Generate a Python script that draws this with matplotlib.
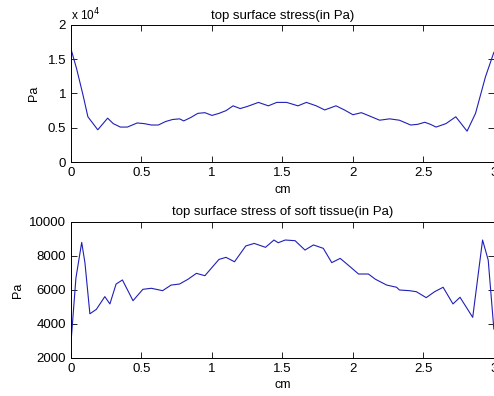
import numpy as np
import matplotlib
matplotlib.use("Agg")
import matplotlib.pyplot as plt
from matplotlib.ticker import FuncFormatter

plt.rcParams['font.family'] = ['Liberation Sans', 'DejaVu Sans']

# position along the top surface (cm) and stress (Pa)
top_x = [0, 0.04, 0.085, 0.12, 0.19, 0.26, 0.30, 0.35, 0.40, 0.47, 0.52, 0.57,
         0.62, 0.67, 0.72, 0.77, 0.80, 0.85, 0.90, 0.95, 1.00, 1.05, 1.10, 1.15,
         1.20, 1.25, 1.33, 1.40, 1.46, 1.53, 1.61, 1.67, 1.74, 1.80, 1.88, 1.94,
         2.00, 2.06, 2.12, 2.19, 2.26, 2.33, 2.41, 2.46, 2.51, 2.55, 2.59, 2.66,
         2.73, 2.81, 2.87, 2.94, 3.00]
top_pa = [16500, 13600, 9800, 6600, 4700, 6400, 5600, 5100, 5100, 5700, 5600, 5400,
          5400, 5900, 6200, 6300, 6000, 6500, 7100, 7200, 6800, 7100, 7500, 8200,
          7800, 8100, 8700, 8200, 8700, 8700, 8200, 8700, 8200, 7600, 8200, 7600,
          6900, 7200, 6700, 6100, 6300, 6100, 5400, 5500, 5800, 5500, 5100, 5600,
          6600, 4500, 7100, 12400, 16000]

# soft tissue
bot_x = [0, 0.035, 0.076, 0.099, 0.134, 0.18, 0.24, 0.276, 0.32, 0.365, 0.44, 0.51,
         0.57, 0.65, 0.71, 0.77, 0.83, 0.89, 0.95, 1.005, 1.05, 1.10, 1.16, 1.24,
         1.30, 1.38, 1.44, 1.47, 1.52, 1.59, 1.66, 1.72, 1.79, 1.85, 1.91, 1.98,
         2.04, 2.11, 2.16, 2.24, 2.31, 2.33, 2.40, 2.45, 2.52, 2.58, 2.64, 2.71,
         2.76, 2.85, 2.92, 2.96, 3.00]
bot_pa = [2900, 6700, 8800, 7600, 4600, 4860, 5610, 5180, 6350, 6590, 5370, 6040,
          6100, 5960, 6290, 6350, 6630, 6980, 6840, 7370, 7800, 7920, 7660, 8590,
          8740, 8510, 8940, 8780, 8940, 8900, 8350, 8650, 8450, 7610, 7860, 7370,
          6940, 6940, 6630, 6290, 6160, 6000, 5960, 5900, 5550, 5900, 6160, 5180,
          5570, 4390, 8940, 7760, 3700]

x_ticks = [0, 0.5, 1, 1.5, 2, 2.5, 3]
top_yticks = [0, 5000, 10000, 15000, 20000]
bot_yticks = [2000, 4000, 6000, 8000, 10000]

fig = plt.figure(figsize=(4.94, 3.96), dpi=100)
ax1 = fig.add_axes([0.1437, 0.5909, 0.856, 0.346])
ax2 = fig.add_axes([0.1437, 0.0960, 0.856, 0.3434])

line_color = '#2020b8'


def style(ax):
    ax.set_xlim(0, 3)
    ax.set_xticks(x_ticks)
    ax.xaxis.set_major_formatter(FuncFormatter(lambda v, p: '%g' % v))
    ax.tick_params(direction='in', length=4, width=0.6, top=True, right=True,
                   labelsize=9.5, pad=3.5, colors='black')
    for s in ax.spines.values():
        s.set_linewidth(0.7)
    ax.set_xlabel('cm', fontsize=9)
    ax.set_ylabel('Pa', fontsize=9)


ax1.plot(top_x, top_pa, color=line_color, linewidth=0.8)
style(ax1)
ax1.set_ylim(0, 20000)
ax1.set_yticks(top_yticks)
ax1.yaxis.set_major_formatter(FuncFormatter(lambda v, p: '%g' % (v / 1e4)))
ax1.set_title('top surface stress(in Pa)', fontsize=9.5, pad=4)
ax1.text(0.0, 1.015, r'x 10$^{4}$', transform=ax1.transAxes, fontsize=8.5,
         ha='left', va='bottom')
ax1.xaxis.set_label_coords(0.5, -0.16)
ax1.yaxis.set_label_coords(-0.073, 0.5)

ax2.plot(bot_x, bot_pa, color=line_color, linewidth=0.8)
style(ax2)
ax2.set_ylim(2000, 10000)
ax2.set_yticks(bot_yticks)
ax2.set_title('top surface stress of soft tissue(in Pa)', fontsize=9.5, pad=5)
ax2.xaxis.set_label_coords(0.5, -0.155)
ax2.yaxis.set_label_coords(-0.112, 0.5)

fig.savefig('out.png', dpi=100)
